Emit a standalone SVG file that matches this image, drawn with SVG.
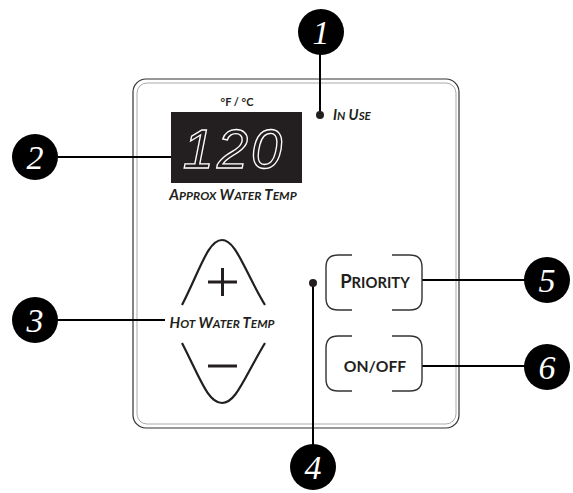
<svg xmlns="http://www.w3.org/2000/svg" width="573" height="493" viewBox="0 0 573 493">
<style>
.lbl{font-family:Lato,"Open Sans","Liberation Sans",sans-serif;font-style:italic;font-weight:bold;fill:#231f20}
.btn{font-family:Lato,"Open Sans","Liberation Sans",sans-serif;font-weight:bold;fill:#231f20}
.num{font-family:"Liberation Serif","DejaVu Serif",serif;font-style:italic;font-size:34px;fill:#fff;text-anchor:middle}
.badge{fill:#000}
.conn{stroke:#000;stroke-width:2;fill:none}
.sm{font-size:0.8em}
.bracket{fill:none;stroke:#333;stroke-width:1.4}
</style>
<rect width="573" height="493" fill="#fff"/>
<g id="panel">
<rect x="133" y="79" width="326" height="349" rx="13" fill="none" stroke="#333" stroke-width="1.2"/>
<rect x="137" y="83" width="319" height="341" rx="10" fill="none" stroke="#aaa" stroke-width="1"/>
</g>
<g id="connectors">
<line class="conn" x1="320" y1="54" x2="320" y2="115"/>
<line class="conn" x1="58" y1="157" x2="171" y2="157"/>
<line class="conn" x1="58" y1="320" x2="165" y2="320"/>
<line class="conn" x1="313" y1="283" x2="313" y2="446"/>
<line class="conn" x1="422" y1="280" x2="525" y2="280"/>
<line class="conn" x1="422" y1="366" x2="525" y2="366"/>
</g>
<g id="in-use">
<circle cx="320" cy="115" r="4" fill="#231f20"/>
<text class="lbl" x="333" y="120" font-size="14.5">I<tspan class="sm">N</tspan> U<tspan class="sm">SE</tspan></text>
</g>
<g id="display">
<text class="btn" x="237" y="106" font-size="11" text-anchor="middle">°F / °C</text>
<rect x="171" y="112" width="131" height="71" fill="#231f20"/>
<text x="234" y="168" font-family="'Liberation Sans',sans-serif" font-style="italic" font-size="56" letter-spacing="3" text-anchor="middle" fill="none" stroke="#fff" stroke-width="1.3">120</text>
<text class="lbl" x="233" y="200" font-size="15" text-anchor="middle">A<tspan class="sm">PPROX</tspan> W<tspan class="sm">ATER</tspan> T<tspan class="sm">EMP</tspan></text>
</g>
<g id="temp-buttons">
<path d="M182,305 C200,270 208,240 222,240 C236,240 244,270 265,305" fill="none" stroke="#231f20" stroke-width="2.2"/>
<path d="M182,343 C200,378 208,403 222,403 C236,403 244,378 265,343" fill="none" stroke="#231f20" stroke-width="2.2"/>
<path d="M208,282 H237 M222.5,268 V296" stroke="#231f20" stroke-width="3" fill="none"/>
<path d="M208,366 H237" stroke="#231f20" stroke-width="3" fill="none"/>
<text class="lbl" x="222" y="328" font-size="14.8" text-anchor="middle">H<tspan class="sm">OT</tspan> W<tspan class="sm">ATER</tspan> T<tspan class="sm">EMP</tspan></text>
</g>
<g id="priority">
<path class="bracket" d="M352,255 H338 Q326,255 326,267 V298 Q326,310 338,310 H352 M392,255 H410 Q422,255 422,267 V298 Q422,310 410,310 H392"/>
<text class="btn" x="375" y="288" font-size="18.5" text-anchor="middle">P<tspan class="sm">RIORITY</tspan></text>
</g>
<g id="onoff">
<path class="bracket" d="M352,336 H338 Q326,336 326,348 V379 Q326,391 338,391 H352 M392,336 H410 Q422,336 422,348 V379 Q422,391 410,391 H392"/>
<text class="btn" x="375" y="372" font-size="15.7" text-anchor="middle">ON/OFF</text>
</g>
<g id="dot4"><circle cx="313" cy="283" r="4" fill="#231f20"/></g>
<g id="badge1"><circle class="badge" cx="321" cy="32" r="23"/><text class="num" x="321" y="44">1</text></g>
<g id="badge2"><circle class="badge" cx="35" cy="157" r="23"/><text class="num" x="35" y="169">2</text></g>
<g id="badge3"><circle class="badge" cx="35" cy="320" r="23"/><text class="num" x="35" y="332">3</text></g>
<g id="badge4"><circle class="badge" cx="313" cy="467" r="23"/><text class="num" x="313" y="479">4</text></g>
<g id="badge5"><circle class="badge" cx="547" cy="280" r="23"/><text class="num" x="547" y="292">5</text></g>
<g id="badge6"><circle class="badge" cx="547" cy="367" r="23"/><text class="num" x="547" y="379">6</text></g>
</svg>
